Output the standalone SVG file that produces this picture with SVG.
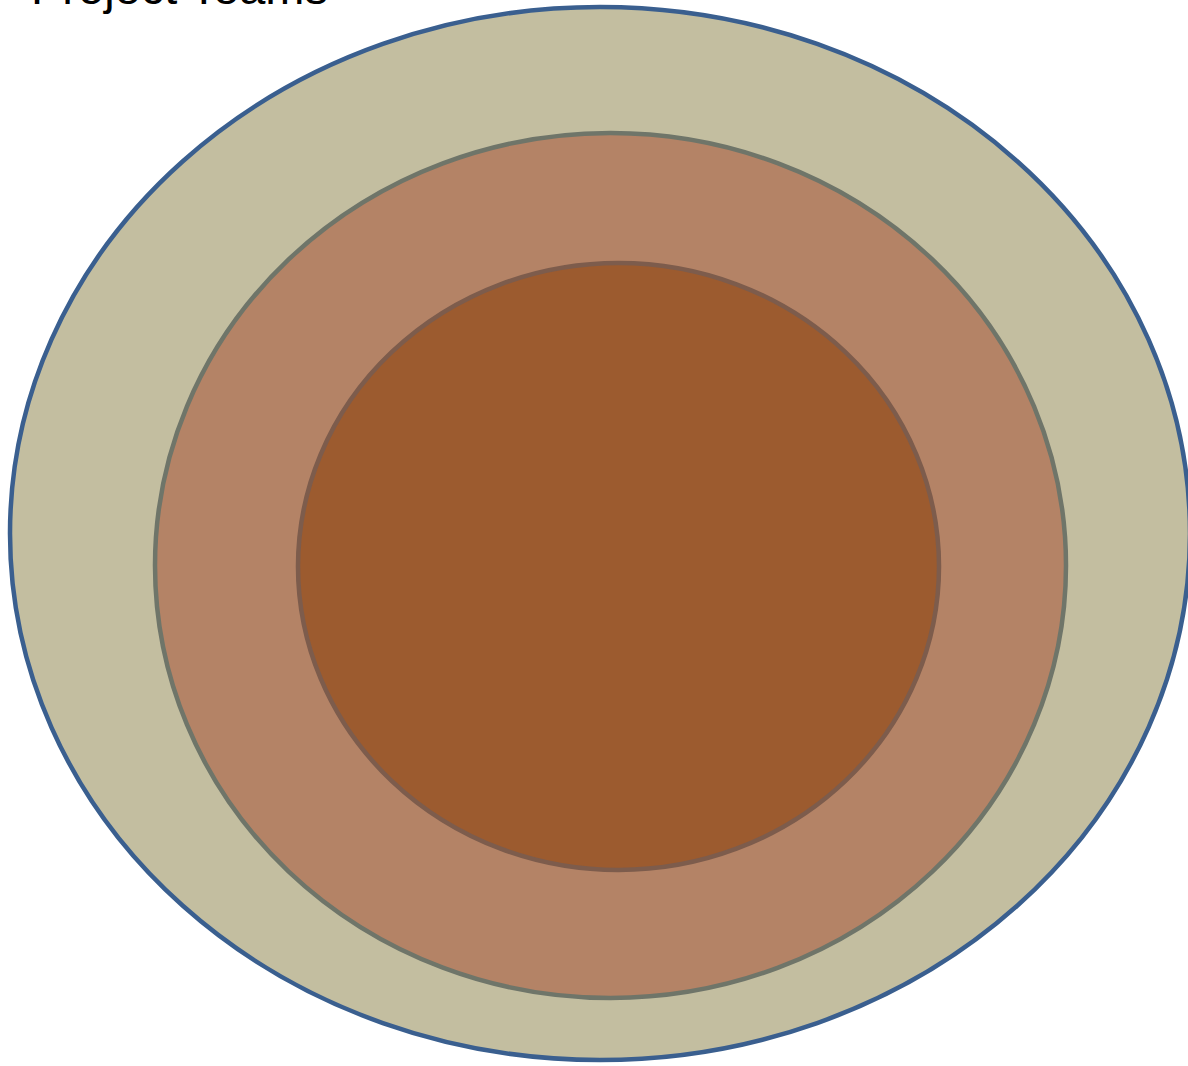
<svg xmlns="http://www.w3.org/2000/svg" width="1188" height="1066" viewBox="0 0 1188 1066">
<style>
.lbl{font-family:"Liberation Sans",Arial,sans-serif;font-size:47px;fill:#000}
</style>
<rect width="1188" height="1066" fill="#fff"/>
<g id="outer"><ellipse cx="600" cy="533.5" rx="590" ry="526.5" fill="#c3bea0" stroke="#3a5f8f" stroke-width="4.5"/></g>
<g id="middle"><ellipse cx="610.5" cy="565.5" rx="455.5" ry="432.5" fill="#b48366" stroke="#6f7569" stroke-width="4.5"/></g>
<g id="inner"><ellipse cx="618.5" cy="566.5" rx="320.5" ry="303.5" fill="#9c5b2f" stroke="#7d5c4c" stroke-width="4.5"/></g>
<g id="title"><text class="lbl" x="31" y="4">Project Teams</text></g>
<g id="connectors"/>
</svg>
